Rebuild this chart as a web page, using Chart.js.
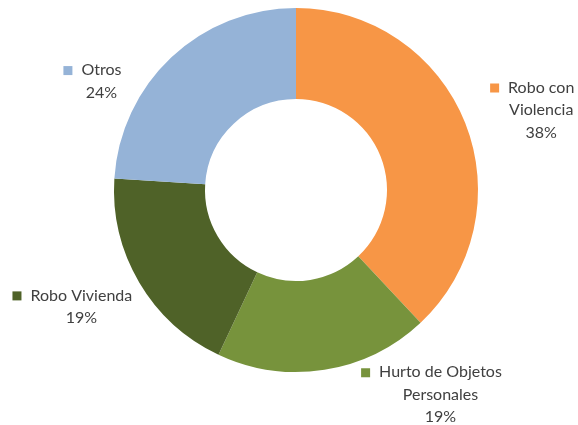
<!DOCTYPE html>
<html>
<head>
<meta charset="utf-8">
<script src="https://cdn.jsdelivr.net/npm/chart.js@4.4.0/dist/chart.umd.min.js"></script>
<style>
  body { margin: 0; background: #fff; }
  #wrap { width: 578px; height: 425px; }
</style>
</head>
<body>
<div id="wrap"><canvas id="donaChart" width="578" height="425"></canvas></div>
<script>
// datos
const categorias = ['Robo con Violencia', 'Hurto de Objetos Personales', 'Robo Vivienda', 'Otros'];
const valores = [38, 19, 19, 24];
// lineas de cada etiqueta (el porcentaje se agrega al final)
const lineasEtiqueta = [['Robo con', 'Violencia'], ['Hurto de Objetos', 'Personales'], ['Robo Vivienda'], ['Otros']];
const colores = ['#F79646', '#77933C', '#4F6228', '#95B3D7'];

// desplazamiento de cada etiqueta respecto al borde exterior del sector
const desplazamientos = [
    { dx: 76, dy: -13 },
    { dx: 116, dy: 25 },
    { dx: -58, dy: 24 },
    { dx: -70, dy: 24 },
];

const etiquetasPlugin = {
    id: 'etiquetas',
    afterDatasetsDraw(chart) {
        const ctx = chart.ctx;
        const meta = chart.getDatasetMeta(0);
        const total = valores.reduce((a, b) => a + b, 0);
        ctx.save();
        ctx.font = '16px Lato, "Open Sans", sans-serif';
        ctx.textBaseline = 'middle';
        ctx.textAlign = 'center';
        const alto = 22.5;
        meta.data.forEach((arc, i) => {
            const p = arc.getProps(['x', 'y', 'startAngle', 'endAngle', 'outerRadius'], true);
            const medio = (p.startAngle + p.endAngle) / 2;
            const ax = p.x + Math.cos(medio) * p.outerRadius + desplazamientos[i].dx;
            const ay = p.y + Math.sin(medio) * p.outerRadius + desplazamientos[i].dy;
            const lineas = lineasEtiqueta[i].concat([Math.round(valores[i] / total * 100) + '%']);
            const y0 = ay - (lineas.length - 1) * alto / 2;
            lineas.forEach((t, k) => {
                if (k === 0) {
                    // cuadrito de color antes de la primera linea
                    const w = ctx.measureText(t).width;
                    ctx.fillStyle = colores[i];
                    ctx.fillRect(ax - w / 2 - 18, y0 - 4, 9, 9);
                }
                ctx.fillStyle = '#404040';
                ctx.fillText(t, ax, y0 + k * alto);
            });
        });
        ctx.restore();
    }
};

const canvas = document.querySelector('#donaChart');
new Chart(canvas, {
    type: 'doughnut',
    data: {
        labels: categorias,
        datasets: [{
            data: valores,
            backgroundColor: colores,
            borderWidth: 0,
        }],
    },
    options: {
        responsive: false,
        animation: false,
        cutout: '50%',
        layout: { padding: { top: 8, bottom: 53, left: 14, right: 0 } },
        plugins: {
            legend: { display: false },
            tooltip: { enabled: false },
        },
    },
    plugins: [etiquetasPlugin],
});
</script>
</body>
</html>
